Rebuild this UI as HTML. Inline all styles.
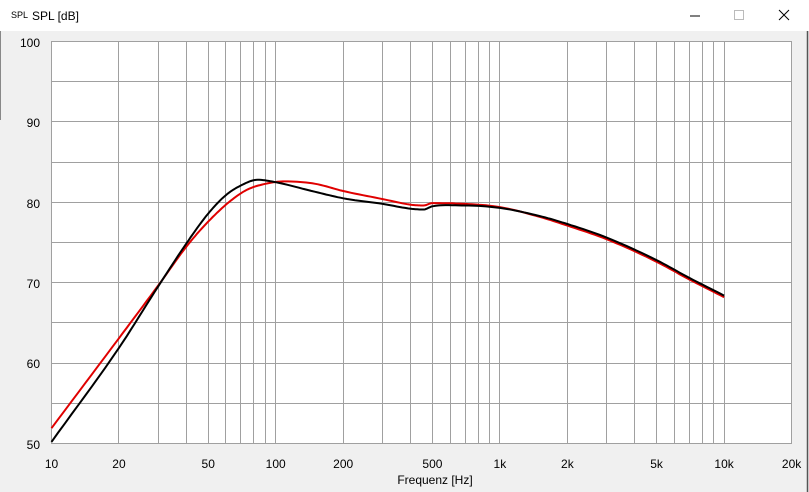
<!DOCTYPE html>
<html><head><meta charset="utf-8"><style>
body{margin:0;width:809px;height:492px;overflow:hidden;background:#f0f0f0;font-family:"Liberation Sans",sans-serif}
</style></head><body>
<svg width="809" height="492" xmlns="http://www.w3.org/2000/svg" style="position:absolute;left:0;top:0">
<rect x="0" y="0" width="809" height="31" fill="#fff"/>
<rect x="0" y="31" width="809" height="461" fill="#f0f0f0"/>
<line x1="807.5" y1="31" x2="807.5" y2="492" stroke="#555" stroke-width="1.5"/>
<line x1="0.5" y1="31" x2="0.5" y2="120" stroke="#888"/>
<text x="11" y="18" font-size="9" fill="#000">SPL</text>
<text x="32" y="20" font-size="12" fill="#000">SPL [dB]</text>
<line x1="690" y1="16" x2="700" y2="16" stroke="#000"/>
<rect x="734.5" y="10.5" width="9" height="9" fill="none" stroke="#bbb"/>
<path d="M779 10L789 20M789 10L779 20" stroke="#000" stroke-width="1"/>
<rect x="51.5" y="41.5" width="740" height="402" fill="#fff" stroke="#a0a0a0"/>
<g id="grid" stroke="#a0a0a0" stroke-width="1"></g>
<g font-size="12" fill="#000" text-anchor="end">
<text x="40" y="47">100</text><text x="40" y="127">90</text><text x="40" y="208">80</text>
<text x="40" y="288">70</text><text x="40" y="368">60</text><text x="40" y="449">50</text>
</g>
<g id="xl" font-size="12" fill="#000" text-anchor="middle"></g>
<text x="435" y="484" font-size="12" text-anchor="middle">Frequenz [Hz]</text>
<polyline id="red" fill="none" stroke="#e00000" stroke-width="2"/>
<polyline id="blk" fill="none" stroke="#000" stroke-width="2"/>
</svg>
<script>
var X=f=>51.5+224.2*(Math.log10(f)-1), Y=d=>443.5-8.04*(d-50);
var g=document.getElementById('grid'),s='';
for(var d=55;d<100;d+=5)s+='<line x1="51.5" x2="791.5" y1="'+(Math.round(Y(d)-0.5)+0.5)+'" y2="'+(Math.round(Y(d)-0.5)+0.5)+'"/>';
[10,100,1000].forEach(function(b){for(var k=2;k<=10;k++){var f=b*k;if(f>20000)break;var x=Math.round(X(f)-0.5)+0.5;s+='<line y1="41.5" y2="443.5" x1="'+x+'" x2="'+x+'"/>';}});
g.innerHTML=s;
var L=[[10,'10'],[20,'20'],[50,'50'],[100,'100'],[200,'200'],[500,'500'],[1000,'1k'],[2000,'2k'],[5000,'5k'],[10000,'10k'],[20000,'20k']],t='';
L.forEach(function(a){t+='<text x="'+X(a[0])+'" y="468">'+a[1]+'</text>'});
document.getElementById('xl').innerHTML=t;
var B=[[10,50.2],[20,61.9],[30,69.6],[40,74.9],[50,78.6],[60,80.9],[70,82.1],[83,82.8],[100,82.5],[150,81.3],[200,80.5],[300,79.8],[400,79.2],[456,79.1],[500,79.5],[700,79.6],[1000,79.3],[1500,78.3],[2000,77.3],[3000,75.6],[5000,72.8],[7000,70.6],[10000,68.4]];
var R=[[10,51.9],[20,63.1],[30,69.7],[40,74.5],[50,77.6],[63,80.2],[75,81.6],[90,82.3],[110,82.6],[150,82.3],[200,81.4],[300,80.4],[400,79.7],[456,79.6],[500,79.9],[700,79.8],[1000,79.4],[1500,78.2],[2000,77.1],[3000,75.4],[5000,72.6],[7000,70.4],[10000,68.2]];
function pts(P){var n=P.length,xs=P.map(p=>Math.log10(p[0])),ys=P.map(p=>p[1]),sl=[],m=[];
for(var i=0;i<n-1;i++)sl.push((ys[i+1]-ys[i])/(xs[i+1]-xs[i]));
for(var i=0;i<n;i++){if(i==0)m.push(sl[0]);else if(i==n-1)m.push(sl[n-2]);else m.push(sl[i-1]*sl[i]<=0?0:(sl[i-1]+sl[i])/2);}
var o=[];for(var i=0;i<n-1;i++){var h=xs[i+1]-xs[i];
for(var j=0;j<10;j++){var u=j/10,h00=2*u*u*u-3*u*u+1,h10=u*u*u-2*u*u+u,h01=-2*u*u*u+3*u*u,h11=u*u*u-u*u;
var d=h00*ys[i]+h10*h*m[i]+h01*ys[i+1]+h11*h*m[i+1];o.push(X(Math.pow(10,xs[i]+h*u)).toFixed(1)+','+Y(d).toFixed(1));}}
o.push(X(P[n-1][0]).toFixed(1)+','+Y(ys[n-1]).toFixed(1));return o.join(' ');}
document.getElementById('red').setAttribute('points',pts(R));
document.getElementById('blk').setAttribute('points',pts(B));
</script>
</body></html>
